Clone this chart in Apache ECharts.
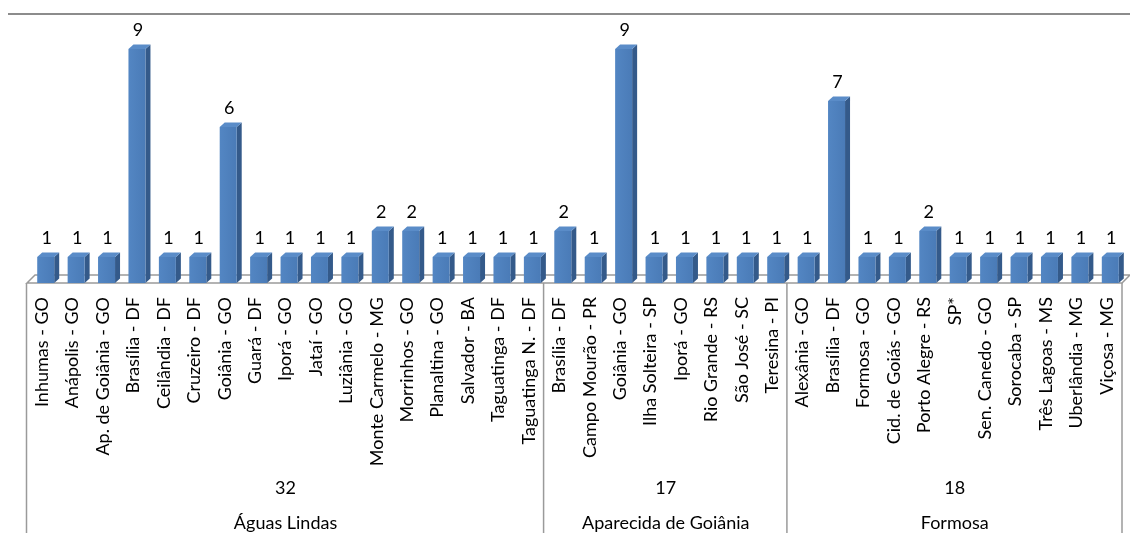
<!DOCTYPE html>
<html>
<head>
<meta charset="utf-8">
<script src="https://cdn.jsdelivr.net/npm/echarts@6/dist/echarts.min.js"></script>
<style>
  html, body { margin: 0; padding: 0; background: #fff; }
  #chart { width: 1130px; height: 533px; }
</style>
</head>
<body>
<div id="chart"></div>
<script>
// Origin cities grouped by destination
var groupNames = ['Águas Lindas', 'Aparecida de Goiânia', 'Formosa'];
var groupTotals = [32, 17, 18];

var citiesAguas = ['Inhumas - GO', 'Anápolis - GO', 'Ap. de Goiânia - GO', 'Brasília - DF', 'Ceilândia - DF',
  'Cruzeiro - DF', 'Goiânia - GO', 'Guará - DF', 'Iporá - GO', 'Jataí - GO', 'Luziânia - GO',
  'Monte Carmelo - MG', 'Morrinhos - GO', 'Planaltina - GO', 'Salvador - BA', 'Taguatinga - DF',
  'Taguatinga N. - DF'];
var valuesAguas = [1, 1, 1, 9, 1, 1, 6, 1, 1, 1, 1, 2, 2, 1, 1, 1, 1];

var citiesAparecida = ['Brasília - DF', 'Campo Mourão - PR', 'Goiânia - GO', 'Ilha Solteira - SP',
  'Iporá - GO', 'Rio Grande - RS', 'São José - SC', 'Teresina - PI'];
var valuesAparecida = [2, 1, 9, 1, 1, 1, 1, 1];

var citiesFormosa = ['Alexânia - GO', 'Brasília - DF', 'Formosa - GO', 'Cid. de Goiás - GO',
  'Porto Alegre - RS', 'SP*', 'Sen. Canedo - GO', 'Sorocaba - SP', 'Três Lagoas - MS',
  'Uberlândia - MG', 'Viçosa - MG'];
var valuesFormosa = [1, 7, 1, 1, 2, 1, 1, 1, 1, 1, 1];

var groupCities = [citiesAguas, citiesAparecida, citiesFormosa];
var groupValues = [valuesAguas, valuesAparecida, valuesFormosa];

var categories = [].concat(citiesAguas, citiesAparecida, citiesFormosa);
var values = [].concat(valuesAguas, valuesAparecida, valuesFormosa);

// Group spans along the category axis: [start, end, total, name]
var groupSpans = [];
var start = 0;
for (var g = 0; g < groupNames.length; g++) {
  var end = start + groupCities[g].length;
  groupSpans.push([start, end, groupTotals[g], groupNames[g]]);
  start = end;
}

var FONT = 'Lato, "Open Sans", sans-serif';
var FRONT = '#4f81bd', SIDE = '#345a8a', TOP = '#5a8cc8';
var LINE = '#9a9a9a';
var DEPTH = 8;          // floor depth in px
var BAR_DX = 5, BAR_DY = 4.5, BAR_W = 17;

var chart = echarts.init(document.getElementById('chart'));

chart.setOption({
  animation: false,
  backgroundColor: '#fff',
  grid: { left: 27, right: 8, top: 23, bottom: 250, containLabel: false },
  xAxis: [
    {
      type: 'category',
      data: categories,
      boundaryGap: true,
      axisLine: { show: false },
      axisTick: { show: false },
      axisLabel: {
        interval: 0,
        rotate: 90,
        margin: 14,
        fontSize: 18,
        fontFamily: FONT,
        color: '#000'
      }
    },
    {
      type: 'value',
      min: 0,
      max: categories.length,
      show: false
    }
  ],
  yAxis: {
    type: 'value',
    min: 0,
    max: 10,
    show: false,
    splitLine: { show: false }
  },
  graphic: [
    {
      type: 'line',
      shape: { x1: 8, y1: 14, x2: 1130, y2: 14 },
      style: { stroke: '#8c8c8c', lineWidth: 2 },
      silent: true
    }
  ],
  series: [
    // Floor of the 3D plot
    {
      type: 'custom',
      xAxisIndex: 1,
      clip: false,
      z: 1,
      silent: true,
      data: [[0, categories.length]],
      renderItem: function (params, api) {
        var a = api.coord([api.value(0), 0]);
        var b = api.coord([api.value(1), 0]);
        return {
          type: 'polygon',
          shape: { points: [[a[0], a[1]], [a[0] + DEPTH, a[1] - DEPTH], [b[0] + DEPTH, b[1] - DEPTH], [b[0], b[1]]] },
          style: { fill: '#fff', stroke: LINE, lineWidth: 1.5 }
        };
      }
    },
    // Bars with front, side and top faces
    {
      type: 'custom',
      clip: false,
      z: 3,
      data: values.map(function (v, i) { return [i, v]; }),
      renderItem: function (params, api) {
        var v = api.value(1);
        var base = api.coord([api.value(0), 0]);
        var top = api.coord([api.value(0), v]);
        var fl = base[0] - 5, fr = fl + BAR_W;
        var y0 = base[1], y1 = top[1];
        return {
          type: 'group',
          children: [
            {
              type: 'polygon',
              shape: { points: [[fr, y1], [fr + BAR_DX, y1 - BAR_DY], [fr + BAR_DX, y0 - BAR_DY], [fr, y0]] },
              style: { fill: SIDE }
            },
            {
              type: 'polygon',
              shape: { points: [[fl, y1], [fl + BAR_DX, y1 - BAR_DY], [fr + BAR_DX, y1 - BAR_DY], [fr, y1]] },
              style: { fill: TOP }
            },
            {
              type: 'rect',
              shape: { x: fl, y: y1, width: BAR_W, height: y0 - y1 },
              style: {
                fill: new echarts.graphic.LinearGradient(0, 0, 1, 0, [
                  { offset: 0, color: '#5386c3' },
                  { offset: 1, color: '#4a7bb7' }
                ])
              }
            },
            {
              type: 'text',
              style: {
                text: String(v),
                x: fl + BAR_W / 2 + 1,
                y: y1 - 19,
                align: 'center',
                verticalAlign: 'middle',
                fontSize: 18,
                fontFamily: FONT,
                fill: '#000'
              }
            }
          ]
        };
      }
    },
    // Group separators, totals and destination names
    {
      type: 'custom',
      xAxisIndex: 1,
      clip: false,
      z: 2,
      silent: true,
      data: groupSpans,
      renderItem: function (params, api) {
        var s = api.coord([api.value(0), 0]);
        var e = api.coord([api.value(1), 0]);
        var cx = (s[0] + e[0]) / 2;
        var y0 = s[1];
        var children = [
          {
            type: 'line',
            shape: { x1: s[0] - 0.5, y1: y0, x2: s[0] - 0.5, y2: 533 },
            style: { stroke: LINE, lineWidth: 1.5 }
          },
          {
            type: 'text',
            style: {
              text: String(api.value(2)),
              x: cx, y: y0 + 205,
              align: 'center', verticalAlign: 'middle',
              fontSize: 18, fontFamily: FONT, fill: '#000'
            }
          },
          {
            type: 'text',
            style: {
              text: groupSpans[params.dataIndex][3],
              x: cx, y: y0 + 240,
              align: 'center', verticalAlign: 'middle',
              fontSize: 18, fontFamily: FONT, fill: '#000'
            }
          }
        ];
        if (params.dataIndex === groupSpans.length - 1) {
          children.push({
            type: 'line',
            shape: { x1: e[0], y1: y0, x2: e[0], y2: 533 },
            style: { stroke: LINE, lineWidth: 1.5 }
          });
        }
        return { type: 'group', children: children };
      }
    }
  ]
});
</script>
</body>
</html>
